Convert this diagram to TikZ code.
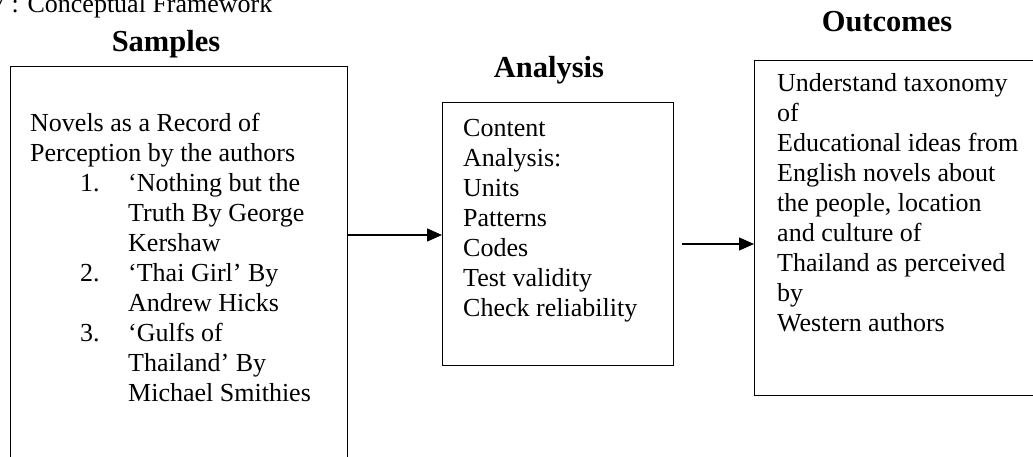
\documentclass[tikz,border=0pt]{standalone}
\usepackage{fontspec}
\setmainfont{Liberation Serif}
\usetikzlibrary{arrows.meta}
\begin{document}
\begin{tikzpicture}[x=1pt,y=-1pt,
  box/.style={draw,line width=1.4pt,inner sep=0pt,anchor=north west},
  body/.style={inner sep=0pt,anchor=base west,font=\fontsize{26}{30}\selectfont},
  title/.style={inner sep=0pt,anchor=base,font=\fontsize{30.5}{34}\selectfont\bfseries},
  arr/.style={line width=1.3pt,-{Triangle[length=15pt,width=13pt]}}]
\path[use as bounding box,clip] (0,0) rectangle (1033,457);
\fill[white] (0,0) rectangle (1033,457);
% caption (cut at the top)
\node[body] (cap) at (-8,13) {7 : Conceptual Framework};
% titles
\node[title] (tS) at (166,52) {Samples};
\node[title] (tA) at (549,78) {Analysis};
\node[title] (tO) at (887,32) {Outcomes};
% boxes
\node[box,minimum width=337pt,minimum height=420pt] (samples) at (10,66) {};
\node[box,minimum width=231pt,minimum height=263pt] (analysis) at (442,102) {};
\node[box,minimum width=300pt,minimum height=335pt] (outcomes) at (754,60) {};
% texts
\node[body] (sText) at (30,132) {\parbox[t]{315pt}{\raggedright
Novels as a Record of\\
Perception by the authors\\
\hspace*{50pt}\makebox[48pt][l]{1.}‘Nothing but the\\
\hspace*{98pt}Truth By George\\
\hspace*{98pt}Kershaw\\
\hspace*{50pt}\makebox[48pt][l]{2.}‘Thai Girl’ By\\
\hspace*{98pt}Andrew Hicks\\
\hspace*{50pt}\makebox[48pt][l]{3.}‘Gulfs of\\
\hspace*{98pt}Thailand’ By\\
\hspace*{98pt}Michael Smithies}};
\node[body] (aText) at (463,137) {\parbox[t]{205pt}{\raggedright
Content\\
Analysis:\\
Units\\
Patterns\\
Codes\\
Test validity\\
Check reliability}};
\node[body] (oText) at (777,92) {\parbox[t]{255pt}{\raggedright
Understand taxonomy\\
of\\
Educational ideas from\\
English novels about\\
the people, location\\
and culture of\\
Thailand as perceived\\
by\\
Western authors}};
% connectors
\coordinate (a1) at (0,235);
\coordinate (a2s) at (682,244);
\draw[arr] (samples.east |- a1) -- (analysis.west |- a1);
\draw[arr] (a2s) -- (outcomes.west |- a2s);
\end{tikzpicture}
\end{document}
